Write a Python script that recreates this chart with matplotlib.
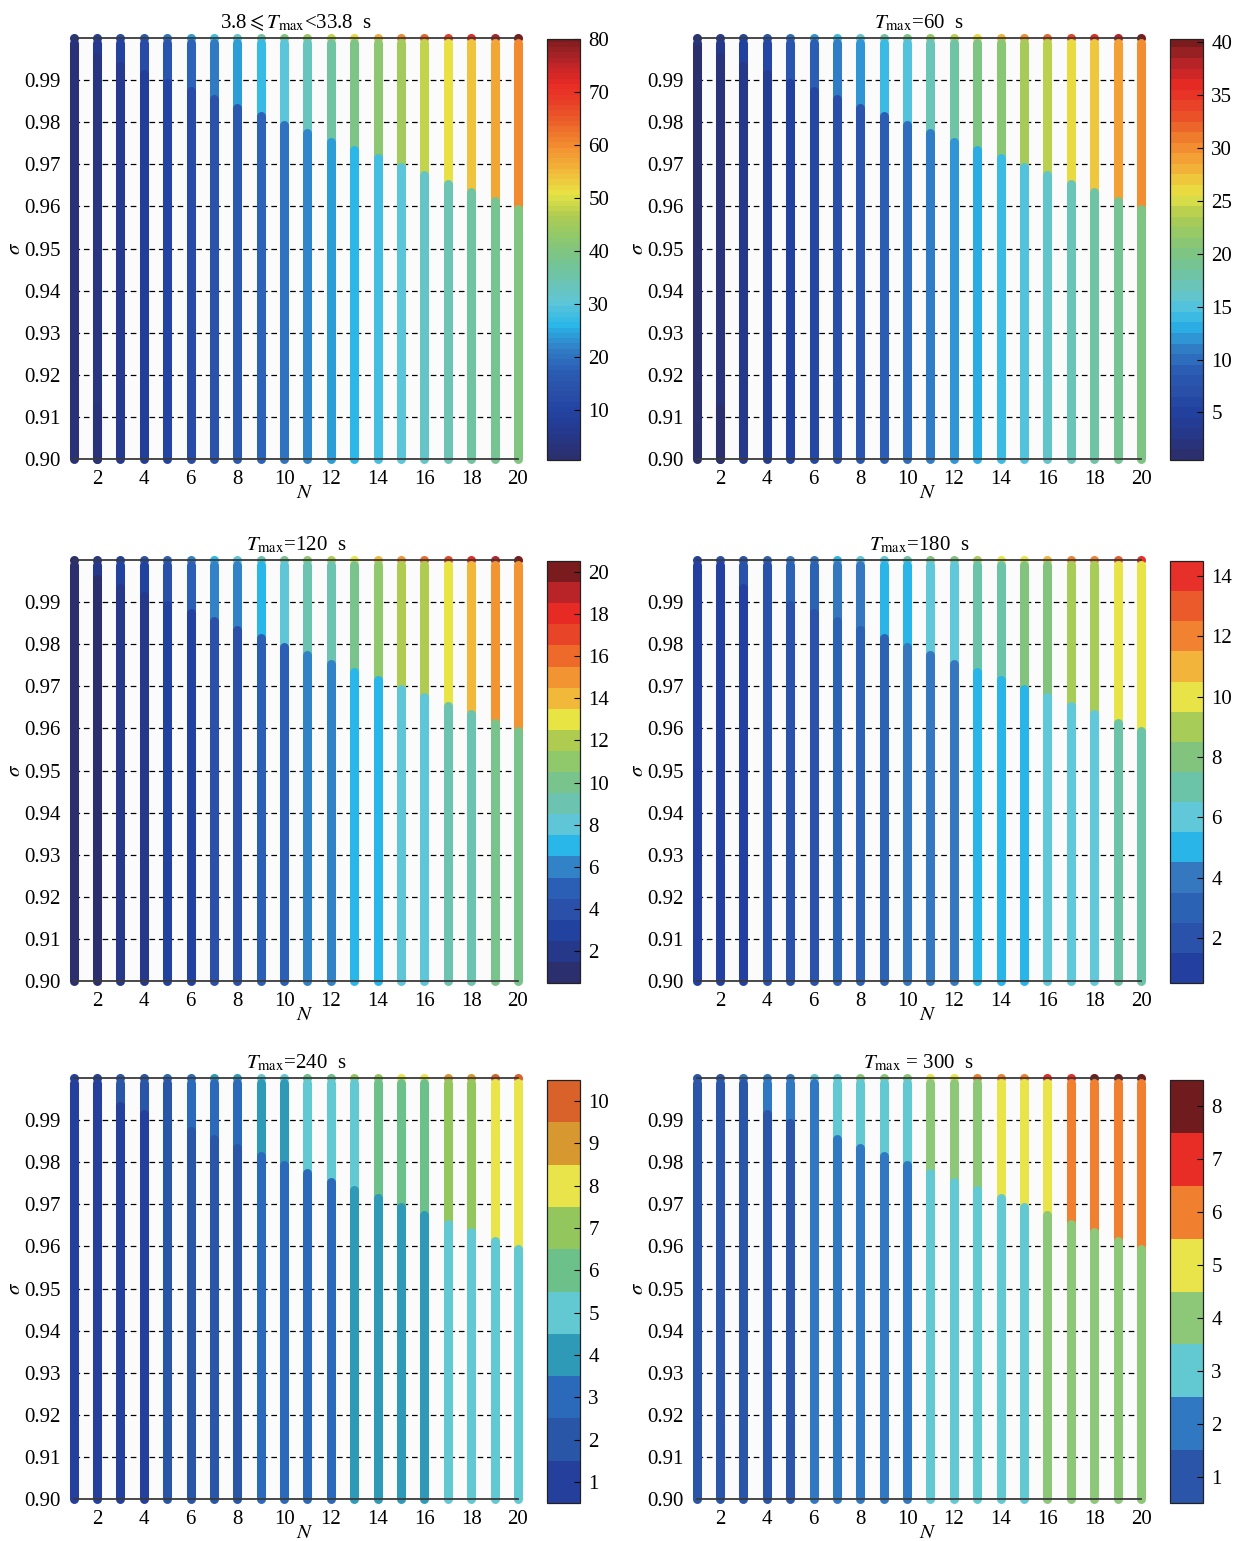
import numpy as np
import matplotlib
matplotlib.use('Agg')
import matplotlib.pyplot as plt
from matplotlib.colors import ListedColormap, LinearSegmentedColormap, Normalize
from matplotlib.cm import ScalarMappable

plt.rcParams['font.family'] = ['Liberation Serif', 'DejaVu Serif']
plt.rcParams['mathtext.fontset'] = 'stix'

# ---------------- data ----------------
N_vals = list(range(1, 21))
# sigma where the lower value switches to the middle value (per N)
sigma_switch = [0.9974, 0.9954, 0.9934, 0.9914, 0.9894, 0.9874, 0.9854, 0.9834, 0.9814, 0.9794,
                0.9774, 0.9754, 0.9734, 0.9714, 0.9694, 0.9674, 0.9654, 0.9634, 0.9614, 0.9594]
sigma_min = 0.90
sigma_max = 1.00
sigma_n2_step = 0.912   # extra step seen on column N=2 in the first two panels

titles = [r'3.8$\leqslant$$T_{\rm max}$<33.8  s',
          r'$T_{\rm max}$=60  s',
          r'$T_{\rm max}$=120  s',
          r'$T_{\rm max}$=180  s',
          r'$T_{\rm max}$=240  s',
          r'$T_{\rm max}$ = 300  s']

low1 = [2, 4, 6, 8, 10, 12, 14, 16, 18, 20, 22, 24, 26, 28, 30, 32, 34, 36, 38, 40]
mid1 = [3, 6, 9, 12, 15, 18, 21, 24, 27, 30, 33, 36, 39, 42, 45, 48, 51, 54, 57, 60]
top1 = [4, 8, 12, 16, 20, 24, 28, 32, 36, 40, 44, 48, 52, 56, 60, 64, 68, 72, 76, 80]

low2 = [1, 2, 3, 4, 5, 6, 7, 8, 9, 10, 11, 12, 13, 14, 15, 16, 17, 18, 19, 20]
mid2 = [2, 3, 5, 6, 8, 9, 11, 12, 14, 15, 17, 18, 20, 21, 23, 24, 26, 27, 29, 30]
top2 = [2, 4, 6, 8, 10, 12, 14, 16, 18, 20, 22, 24, 26, 28, 30, 32, 34, 36, 38, 40]

low3 = [1, 1, 2, 2, 3, 3, 4, 4, 5, 5, 6, 6, 7, 7, 8, 8, 9, 9, 10, 10]
mid3 = [1, 2, 3, 3, 4, 5, 6, 6, 7, 8, 9, 9, 10, 11, 12, 12, 13, 14, 15, 15]
top3 = [1, 2, 3, 4, 5, 6, 7, 8, 9, 10, 11, 12, 13, 14, 15, 16, 17, 18, 19, 20]

low4 = [1, 1, 1, 2, 2, 2, 3, 3, 3, 4, 4, 4, 5, 5, 5, 6, 6, 6, 7, 7]
mid4 = [1, 1, 2, 2, 3, 3, 4, 4, 5, 5, 6, 6, 7, 7, 8, 8, 9, 9, 10, 10]
top4 = [1, 2, 2, 3, 4, 4, 5, 6, 6, 7, 8, 8, 9, 10, 10, 11, 12, 12, 13, 14]

low5 = [1, 1, 1, 1, 2, 2, 2, 2, 3, 3, 3, 3, 4, 4, 4, 4, 5, 5, 5, 5]
mid5 = [1, 1, 2, 2, 2, 3, 3, 3, 4, 4, 5, 5, 5, 6, 6, 6, 7, 7, 8, 8]
top5 = [1, 1, 2, 2, 3, 3, 4, 4, 5, 5, 6, 6, 7, 7, 8, 8, 9, 9, 10, 10]

low6 = [1, 1, 1, 1, 1, 2, 2, 2, 2, 2, 3, 3, 3, 3, 3, 4, 4, 4, 4, 4]
mid6 = [1, 1, 1, 2, 2, 2, 3, 3, 3, 3, 4, 4, 4, 5, 5, 5, 6, 6, 6, 6]
top6 = [1, 1, 2, 2, 2, 3, 3, 4, 4, 4, 5, 5, 6, 6, 6, 7, 7, 8, 8, 8]

n2_extra = [3, 1, None, None, None, None]   # value below sigma_n2_step for N=2

cb_ticks = [list(range(10, 81, 10)), list(range(5, 41, 5)), list(range(2, 21, 2)),
            list(range(2, 15, 2)), list(range(1, 11)), list(range(1, 9))]
cb_levels = [80, 40, 20, 14, 10, 8]

# ---------------- colours ----------------
base_colors = ['#2b2f6e', '#26388a', '#2242a0', '#2a50aa', '#2b5fb5', '#3282c8', '#29b6e8',
               '#5fc6d8', '#6cc4b0', '#78c48c', '#90c86c', '#b0cc50', '#e8e444', '#f2b83a',
               '#f39432', '#ed6a2a', '#e84428', '#e82a24', '#b82428', '#7a1c1e']
base_cmap = LinearSegmentedColormap.from_list('base', base_colors)

colors4 = ['#2340a0', '#2a52aa', '#2c62b4', '#3578c0', '#29b5e8', '#60c8d8', '#6cc4a8',
           '#82c47e', '#a8cc58', '#e8e448', '#f2b43a', '#f08232', '#ea5a2a', '#e8302a']
colors5 = ['#243f9c', '#2a56a8', '#2b6abb', '#2e9ab8', '#62c8d2', '#6cc08a', '#93c75e',
           '#e9e44a', '#d79830', '#d9622a']
colors6 = ['#2a55a8', '#3079c2', '#62c8d2', '#8cc878', '#e8e44a', '#f08030', '#e82c26', '#701c1e']

cmaps = [ListedColormap(base_cmap(np.linspace(0, 1, 80))),
         ListedColormap(base_cmap(np.linspace(0, 1, 40))),
         ListedColormap(base_colors),
         ListedColormap(colors4),
         ListedColormap(colors5),
         ListedColormap(colors6)]

lows = [low1, low2, low3, low4, low5, low6]
mids = [mid1, mid2, mid3, mid4, mid5, mid6]
tops = [top1, top2, top3, top4, top5, top6]

# ---------------- layout ----------------
W, H = 1239, 1541
fig = plt.figure(figsize=(W / 100, H / 100), dpi=100)
fig.patch.set_facecolor('white')

ax_left = [73.6, 696.6]
ax_right = [518.0, 1141.0]
ax_tops = [38, 560, 1078]
ax_bots = [459, 981, 1499]
cb_left = [547, 1170]
cb_w = 33
cb_tops = [39, 561, 1080]
cb_bots = [460, 983, 1503]

LW = 6.5  # bar width in points
FS = 15

for p in range(6):
    r, c = divmod(p, 2)
    x0, x1 = ax_left[c], ax_right[c]
    y0, y1 = ax_tops[r], ax_bots[r]
    ax = fig.add_axes([x0 / W, 1 - y1 / H, (x1 - x0) / W, (y1 - y0) / H])
    ax.set_facecolor('#fbfbfb')
    cmap = cmaps[p]
    nlev = cb_levels[p]
    norm = Normalize(0.5, nlev + 0.5)

    for i, n in enumerate(N_vals):
        # top value at sigma = 1
        ax.scatter([n], [sigma_max], s=LW ** 2, color=cmap(norm(tops[p][i])),
                   linewidths=0, zorder=3.0, clip_on=False)
        ax.plot([n, n], [sigma_switch[i], sigma_max - 0.0012], color=cmap(norm(mids[p][i])),
                lw=LW, solid_capstyle='round', zorder=3.1, clip_on=False)
        ax.plot([n, n], [sigma_min, sigma_switch[i]], color=cmap(norm(lows[p][i])),
                lw=LW, solid_capstyle='round', zorder=3.2, clip_on=False)
        if n == 2 and n2_extra[p] is not None:
            ax.plot([n, n], [sigma_min, sigma_n2_step], color=cmap(norm(n2_extra[p])),
                    lw=LW, solid_capstyle='round', zorder=3.3, clip_on=False)

    ax.set_xlim(1, 20)
    ax.set_ylim(sigma_min, sigma_max)
    yt = [0.90, 0.91, 0.92, 0.93, 0.94, 0.95, 0.96, 0.97, 0.98, 0.99]
    ax.set_yticks(yt)
    ax.set_yticklabels(['%.2f' % v for v in yt])
    ax.set_xticks(list(range(2, 21, 2)))
    ax.tick_params(axis='both', length=0, labelsize=FS)
    ax.tick_params(axis='y', pad=9)
    ax.tick_params(axis='x', pad=8)
    for yv in yt[1:]:
        ax.axhline(yv, color='black', lw=0.9, ls=(0, (4.5, 3)), zorder=1)
    for s in ['left', 'right']:
        ax.spines[s].set_visible(False)
    for s in ['top', 'bottom']:
        ax.spines[s].set_color('#3a3a3a')
        ax.spines[s].set_linewidth(1.3)
        ax.spines[s].set_zorder(5)
    ax.set_title(titles[p], fontsize=FS, pad=7)
    ax.set_ylabel(r'$\sigma$', fontsize=FS, va='center')
    ax.yaxis.set_label_coords(-0.13, 0.5)
    ax.set_xlabel(r'$N$', fontsize=FS, va='center')
    ax.xaxis.set_label_coords(0.52, -0.082)

    # colorbar
    cy0, cy1 = cb_tops[r], cb_bots[r]
    cax = fig.add_axes([cb_left[c] / W, 1 - cy1 / H, cb_w / W, (cy1 - cy0) / H])
    sm = ScalarMappable(norm=norm, cmap=cmap)
    cb = fig.colorbar(sm, cax=cax, ticks=cb_ticks[p])
    cb.outline.set_linewidth(0.9)
    cb.outline.set_edgecolor('#222222')
    cax.tick_params(labelsize=FS, direction='in', length=4, width=0.8, pad=6)
    if p == 0:
        cax.set_ylim(0.5, 80)
    if p == 1:
        cax.set_ylim(0.5, 40.3)

fig.savefig('out.png', dpi=100, facecolor='white')
